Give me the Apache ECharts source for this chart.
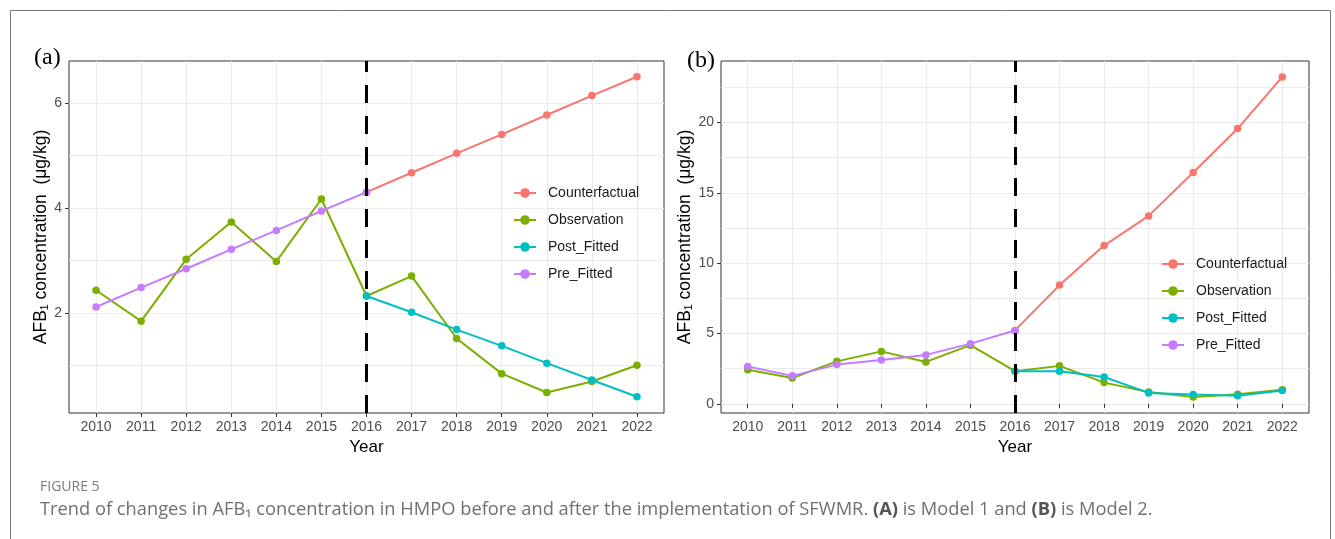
<!DOCTYPE html>
<html>
<head>
<meta charset="utf-8">
<script src="https://cdn.jsdelivr.net/npm/echarts@6/dist/echarts.min.js"></script>
<style>
  html, body { margin: 0; padding: 0; background: #fff; }
  #chart { width: 1335px; height: 539px; }
</style>
</head>
<body>
<div id="chart"></div>
<script>
// data
var years = [2010, 2011, 2012, 2013, 2014, 2015, 2016, 2017, 2018, 2019, 2020, 2021, 2022];
var preYears = years.slice(0, 7);   // 2010-2016
var postYears = years.slice(6);     // 2016-2022
var interventionYear = 2016;

var observation = [2.43, 1.84, 3.02, 3.73, 2.98, 4.17, 2.32, 2.70, 1.51, 0.84, 0.48, 0.69, 1.00];

// model 1 (panel a)
var preFittedA = [2.11, 2.48, 2.84, 3.21, 3.57, 3.94, 4.30];
var counterfactualA = [4.30, 4.67, 5.04, 5.40, 5.77, 6.14, 6.50];
var postFittedA = [2.32, 2.01, 1.68, 1.37, 1.04, 0.72, 0.40];

// model 2 (panel b)
var preFittedB = [2.65, 1.99, 2.79, 3.12, 3.48, 4.28, 5.22];
var counterfactualB = [5.22, 8.44, 11.25, 13.36, 16.45, 19.57, 23.24];
var postFittedB = [2.32, 2.32, 1.91, 0.78, 0.66, 0.57, 0.95];

var yTicksA = [2, 4, 6];
var yGridA = [1, 2, 3, 4, 5, 6];
var yTicksB = [0, 5, 10, 15, 20];
var yGridB = [0, 2.5, 5, 7.5, 10, 12.5, 15, 17.5, 20, 22.5];

var seriesNames = ['Counterfactual', 'Observation', 'Post_Fitted', 'Pre_Fitted'];
var colors = ['#F8766D', '#7CAE00', '#00BFC4', '#C77CFF'];

var FONT = "'Liberation Sans', Arial, sans-serif";

function pairs(xs, ys) {
  return xs.map(function (x, i) { return [x, ys[i]]; });
}

function xAxisFor(g) {
  return {
    type: 'value', gridIndex: g, min: 2009.4, max: 2022.6,
    name: 'Year', nameLocation: 'middle', nameGap: 26,
    nameTextStyle: { fontSize: 17, color: '#000', fontFamily: FONT },
    axisLine: { show: false },
    axisTick: { show: true, customValues: years, length: 4, lineStyle: { color: '#333' } },
    axisLabel: { customValues: years, color: '#4d4d4d', fontSize: 14, margin: 7, fontFamily: FONT,
      formatter: function (v) { return String(v); } },
    splitLine: { show: true, lineStyle: { color: '#ebebeb', width: 1 } }
  };
}

function yAxesFor(g, min, max, ticks, gridVals, gap) {
  return [{
    type: 'value', gridIndex: g, min: min, max: max, position: 'left',
    name: 'AFB₁ concentration  (μg/kg)', nameLocation: 'middle', nameGap: gap, nameRotate: 90,
    nameTextStyle: { fontSize: 17.5, color: '#000', fontFamily: FONT },
    axisLine: { show: false },
    axisTick: { show: true, customValues: ticks, length: 4, lineStyle: { color: '#333' } },
    axisLabel: { customValues: ticks, color: '#4d4d4d', fontSize: 14, margin: 7, fontFamily: FONT },
    splitLine: { show: false }
  }, {
    type: 'value', gridIndex: g, min: min, max: max, position: 'right',
    axisLine: { show: false },
    axisTick: { show: false, customValues: gridVals },
    axisLabel: { show: false, customValues: gridVals },
    splitLine: { show: true, lineStyle: { color: '#ebebeb', width: 1 } }
  }];
}

function lineSeries(name, data, g, color, extra) {
  var s = {
    name: name, type: 'line', data: data,
    xAxisIndex: g, yAxisIndex: g * 2,
    symbol: 'circle', symbolSize: 7.5, showSymbol: true,
    itemStyle: { color: color },
    lineStyle: { color: color, width: 2 },
    emphasis: { disabled: true },
    animation: false
  };
  if (extra) s.markLine = extra;
  return s;
}

var dashed = {
  silent: true, symbol: ['none', 'none'], label: { show: false },
  lineStyle: { color: '#000', width: 3, type: [18, 13] },
  data: [{ xAxis: interventionYear }],
  animation: false
};

function legendAt(left, top) {
  return {
    data: seriesNames, orient: 'vertical', left: left, top: top, padding: 0,
    itemWidth: 22, itemHeight: 12, itemGap: 13,
    textStyle: { fontSize: 14, color: '#1a1a1a', fontFamily: FONT, padding: [0, 0, 0, 7] }
  };
}

var chart = echarts.init(document.getElementById('chart'), null, { renderer: 'canvas' });

chart.setOption({
  backgroundColor: '#fff',
  animation: false,
  grid: [
    { left: 69, top: 61, width: 595, height: 352, show: true, borderColor: '#333', borderWidth: 1, backgroundColor: '#fff' },
    { left: 721, top: 61, width: 588, height: 352, show: true, borderColor: '#333', borderWidth: 1, backgroundColor: '#fff' }
  ],
  xAxis: [xAxisFor(0), xAxisFor(1)],
  yAxis: yAxesFor(0, 0.09, 6.80, yTicksA, yGridA, 17)
    .concat(yAxesFor(1, -0.65, 24.37, yTicksB, yGridB, 27)),
  legend: [legendAt(513, 186), legendAt(1161, 257)],
  series: [
    lineSeries('Counterfactual', pairs(postYears, counterfactualA), 0, colors[0]),
    lineSeries('Observation', pairs(years, observation), 0, colors[1], dashed),
    lineSeries('Post_Fitted', pairs(postYears, postFittedA), 0, colors[2]),
    lineSeries('Pre_Fitted', pairs(preYears, preFittedA), 0, colors[3]),
    lineSeries('Counterfactual', pairs(postYears, counterfactualB), 1, colors[0]),
    lineSeries('Observation', pairs(years, observation), 1, colors[1], dashed),
    lineSeries('Post_Fitted', pairs(postYears, postFittedB), 1, colors[2]),
    lineSeries('Pre_Fitted', pairs(preYears, preFittedB), 1, colors[3])
  ],
  graphic: [
    { type: 'rect', silent: true, z: -1,
      shape: { x: 10.5, y: 10.5, width: 1320, height: 600 },
      style: { fill: 'none', stroke: '#777', lineWidth: 1 } },
    { type: 'text', left: 34, top: 46,
      style: { text: '(a)', font: "24px 'Liberation Serif', 'Times New Roman', serif", fill: '#000' } },
    { type: 'text', left: 687, top: 49,
      style: { text: '(b)', font: "24px 'Liberation Serif', 'Times New Roman', serif", fill: '#000' } },
    { type: 'text', left: 40, top: 480,
      style: { text: 'FIGURE 5', font: "14px 'Open Sans', sans-serif", fill: '#7a7a7a' } },
    { type: 'text', left: 40, top: 501,
      style: {
        text: '{n|Trend of changes in AFB₁ concentration in HMPO before and after the implementation of SFWMR. }{b|(A)}{n| is Model 1 and }{b|(B)}{n| is Model 2.}',
        rich: {
          n: { font: "18.3px 'Open Sans', sans-serif", fill: '#707070' },
          b: { font: "bold 18.3px 'Open Sans', sans-serif", fill: '#555' }
        }
      } }
  ]
});
</script>
</body>
</html>
